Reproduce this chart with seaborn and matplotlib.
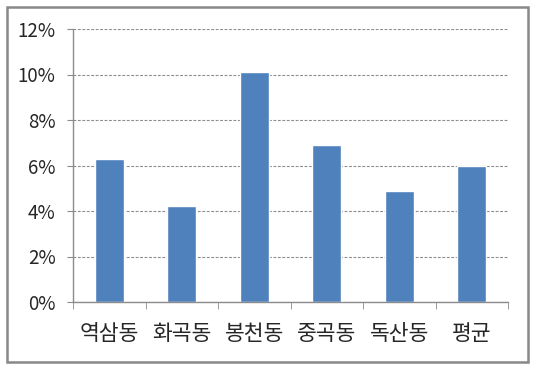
import numpy as np
import pandas as pd
import matplotlib
matplotlib.use("Agg")
import matplotlib.pyplot as plt
import seaborn as sns
from matplotlib.patches import Rectangle
from matplotlib.ticker import FixedLocator

# 데이터
지역 = ["역삼동", "화곡동", "봉천동", "중곡동", "독산동", "평균"]
비율 = [6.3, 4.2, 10.1, 6.9, 4.9, 6.0]
y_눈금 = [0, 2, 4, 6, 8, 10, 12]

df = pd.DataFrame({"지역": 지역, "비율": 비율})

sns.set_style("white")
plt.rcParams['font.family'] = ['Noto Sans CJK KR', 'DejaVu Sans']

fig = plt.figure(figsize=(5.37, 3.73), dpi=100)
ax = fig.add_axes([73/537, 1 - 302/373, (508-73)/537, (302-29)/373])

sns.barplot(data=df, x="지역", y="비율", color="#4F81BD", width=0.4,
            saturation=1, ax=ax)

# 축 설정
ax.set_xlim(-0.5, len(지역) - 0.5)
ax.set_ylim(0, 12)
ax.set_yticks(y_눈금)
ax.set_yticklabels([f"{v}%" for v in y_눈금])
ax.set_xlabel("")
ax.set_ylabel("")

ax.yaxis.grid(True, linestyle=(0, (2.5, 1.5)), color="#8c8c8c", linewidth=0.8)
ax.set_axisbelow(True)

for s in ["top", "right"]:
    ax.spines[s].set_visible(False)
for s in ["left", "bottom"]:
    ax.spines[s].set_color("#8c8c8c")
    ax.spines[s].set_linewidth(1)

ax.tick_params(axis="y", length=4.5, color="#8c8c8c", pad=8, labelsize=13.5,
               direction="out", left=True)
ax.tick_params(axis="x", which="major", length=0, pad=15, labelsize=15.5)
ax.xaxis.set_minor_locator(FixedLocator(np.arange(-0.5, len(지역), 1)))
ax.tick_params(axis="x", which="minor", length=5, color="#8c8c8c",
               direction="out", bottom=True)

# 차트 테두리
fig.patches.append(Rectangle((7/537, 1 - 362/373), (528-7)/537, (362-7)/373,
                             transform=fig.transFigure, fill=False,
                             edgecolor="#888888", linewidth=1.8))

fig.savefig("out.png", dpi=100)
